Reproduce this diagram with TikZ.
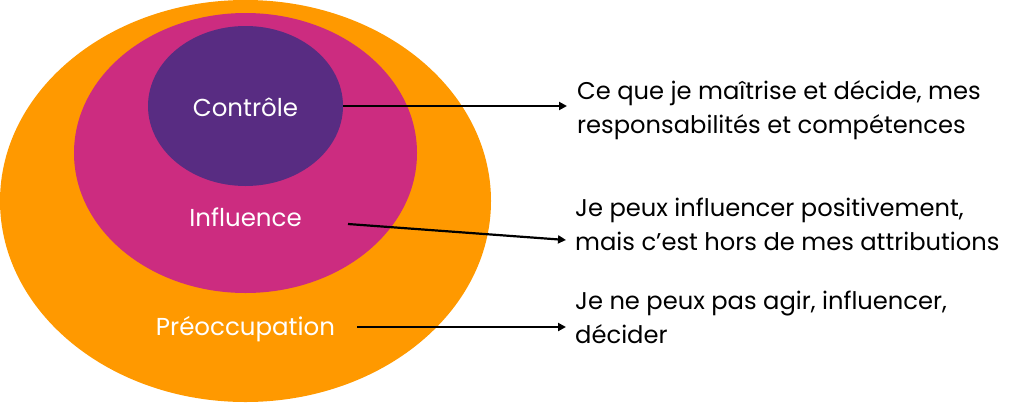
\documentclass[tikz,border=0pt]{standalone}
\usepackage{fontspec}
\setmainfont{Poppins}
\usetikzlibrary{shapes.geometric,arrows.meta}
\definecolor{orangeC}{RGB}{255,153,0}
\definecolor{magentaC}{RGB}{204,44,128}
\definecolor{purpleC}{RGB}{88,44,130}
\tikzset{
  zone/.style={ellipse,inner sep=0pt,draw=none},
  inlabel/.style={text=white,inner sep=0pt,anchor=base,font=\fontsize{24.5}{28}\selectfont},
  desc/.style={text=black,inner sep=0pt,anchor=base west,align=left,font=\fontsize{24.2}{34}\selectfont},
  conn/.style={line width=2.2pt,-{Triangle[length=8pt,width=8pt]}}
}
\begin{document}
\begin{tikzpicture}[x=1pt,y=-1pt]
\useasboundingbox (0,0) rectangle (1024,402);
\node[zone,fill=orangeC,minimum width=491,minimum height=402] (preo) at (245.5,201) {};
\node[zone,fill=magentaC,minimum width=343,minimum height=280] (infl) at (245.5,153) {};
\node[zone,fill=purpleC,minimum width=195,minimum height=160] (ctrl) at (245.5,106) {};
\node[inlabel] (tctrl) at (245.5,116) {Contrôle};
\node[inlabel] (tinfl) at (245.5,226) {Influence};
\node[inlabel] (tpreo) at (245.5,335) {Préoccupation};
\node[desc] (d1) at (577,133) {Ce que je maîtrise et décide, mes\\responsabilités et compétences};
\node[desc] (d2) at (575,250) {Je peux influencer positivement,\\mais c’est hors de mes attributions};
\node[desc] (d3) at (575,343) {Je ne peux pas agir, influencer,\\décider};
\coordinate (s2) at (348,224);
\coordinate (s3) at (357,327);
\coordinate (e1) at (567,106);
\coordinate (e2) at (566,240);
\coordinate (e3) at (566,327);
\draw[conn] (ctrl.east) -- (e1);
\draw[conn] (s2) -- (e2);
\draw[conn] (s3) -- (e3);
\end{tikzpicture}
\end{document}
